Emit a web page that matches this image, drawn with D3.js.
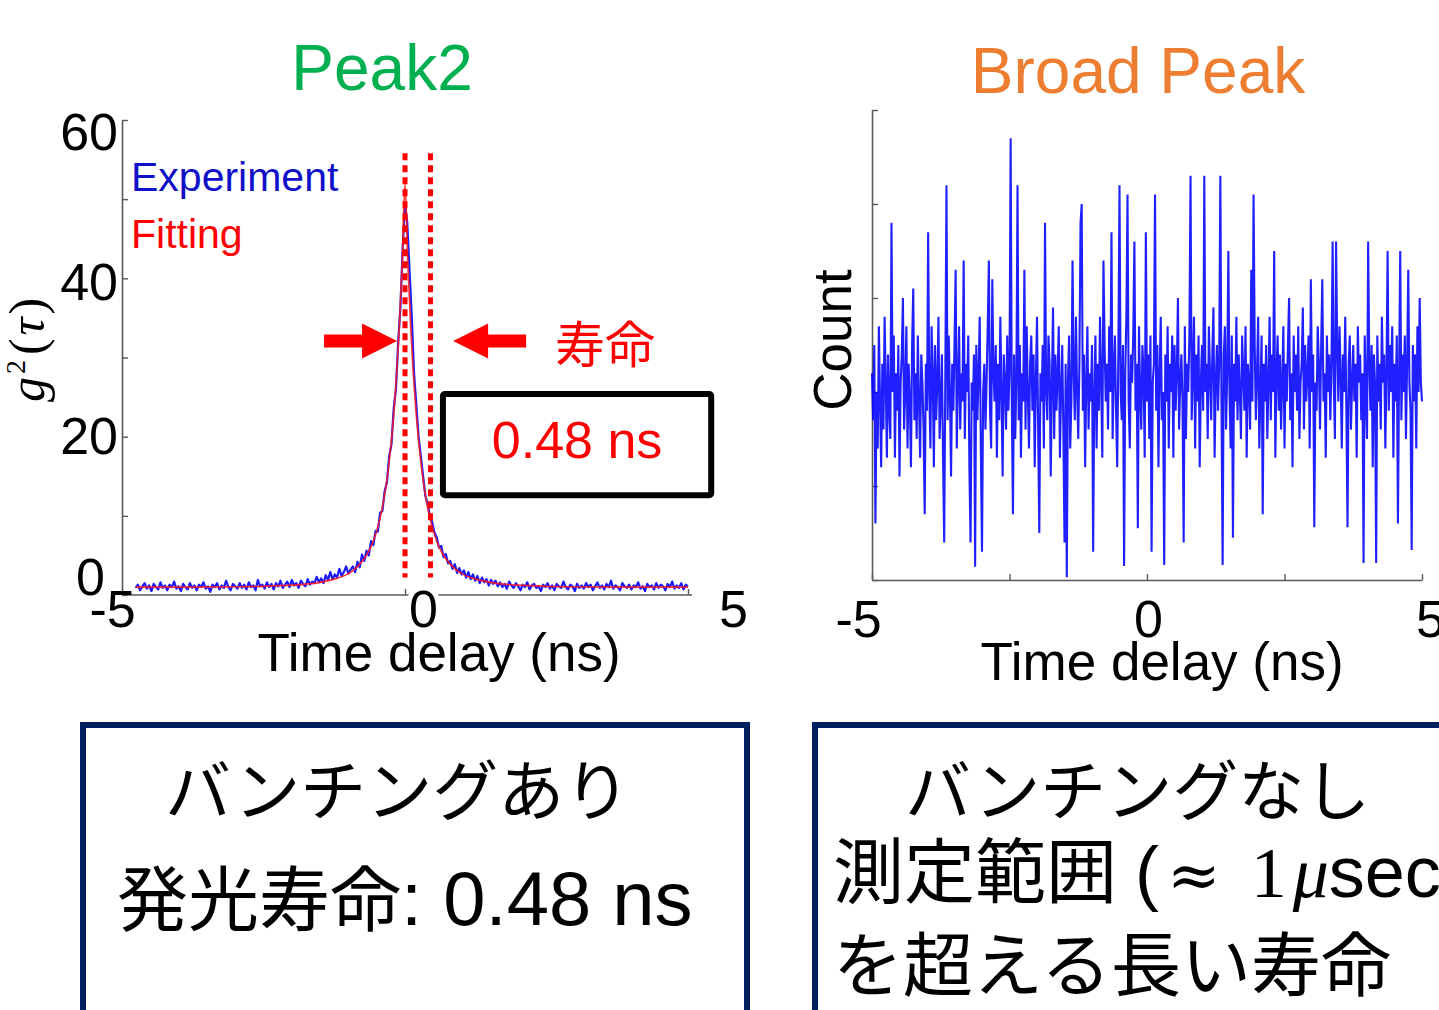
<!DOCTYPE html>
<html><head><meta charset="utf-8">
<script src="https://cdn.jsdelivr.net/npm/d3@7"></script>
<style>
html,body{margin:0;padding:0;background:#fff;overflow:hidden}
svg{display:block}
</style></head><body>
<svg id="c" width="1439" height="1010"></svg>
<script>
// ---------------- data ----------------
const titles = ["Peak2", "Broad Peak"];
const legendLabels = ["Experiment", "Fitting"];
const xAxisTitle = "Time delay (ns)";
const yAxisTitleRight = "Count";

const xTicksLeft = [-5, 0, 5];
const xTickLabelsLeft = {"-5": "-5", "0": "0", "5": "5"};
const yTicksLeft = [0, 10, 20, 30, 40, 50, 60];
const yTickLabelsLeft = {"0": "0", "20": "20", "40": "40", "60": "60"};
const xTicksRight = [-5, -2.5, 0, 2.5, 5];
const xTickLabelsRight = {"-5": "-5", "0": "0", "5": "5"};
const yTicksRight = [0, 10, 20, 30, 40, 50];

// g2(tau) experiment: uniform bins
const expStart = -4.76, expStep = 0.04;
const expValues = [
 0.9,1.3,0.6,1.1,1.5,0.8,1.2,0.5,1.4,1.0,
 0.7,1.6,0.9,1.2,0.6,1.3,1.0,1.7,0.8,1.1,
 0.5,1.4,1.0,0.7,1.5,0.9,1.2,0.6,1.3,1.0,
 1.6,0.8,1.1,0.4,1.3,1.0,1.5,0.7,1.2,0.9,
 1.8,1.0,0.6,1.4,1.1,0.8,1.5,0.9,1.3,0.7,
 1.6,1.0,1.2,0.6,1.9,1.1,
 1.3,0.8,1.6,1.0,1.4,0.7,1.5,1.1,1.8,0.9,
 1.3,1.7,1.0,1.9,1.2,1.5,0.9,1.8,1.4,1.1,
 2.0,1.3,1.7,1.5,2.3,1.6,2.1,1.5,2.5,1.9,
 2.9,2.0,2.6,2.2,3.3,2.4,2.9,3.6,2.7,3.2,
 3.6,2.9,4.2,3.5,5.1,4.3,5.6,5.0,6.8,6.3,
 8.1,8.0,10.4,10.6,13.1,14.2,17.5,19.0,23.5,26.0,
 32.0,36.5,44.0,49.5,47.0,41.0,35.0,28.0,24.0,20.0,
 17.5,15.0,12.5,11.5,10.0,9.2,7.9,7.3,6.0,6.2,
 4.8,5.2,4.0,4.3,3.3,3.9,2.8,3.4,2.6,3.1,
 2.2,2.9,2.0,2.6,1.8,2.4,1.5,2.2,1.6,2.0,
 1.2,1.9,1.4,1.8,1.1,
 1.6,1.0,1.4,0.8,1.7,1.2,0.9,1.5,1.1,0.6,
 1.3,1.0,1.6,0.7,1.2,1.4,0.9,1.1,0.5,1.3,
 1.0,1.5,0.8,1.2,0.6,1.4,1.1,0.9,1.7,1.0,
 0.7,1.3,1.1,0.5,1.4,0.9,1.2,0.8,1.5,1.0,
 1.3,0.6,1.1,1.6,0.9,1.2,0.7,1.4,1.0,1.8,
 0.8,1.2,1.0,0.6,1.5,1.1,0.9,1.3,0.7,1.2,
 1.0,1.6,0.8,1.1,0.5,1.4,1.0,1.2,0.7,1.5,
 0.9,1.3,1.1,0.6,1.4,1.0,1.7,0.8,1.2,0.9,
 1.5,0.7,1.3,1.1
];

const fitTimes = [-4.76,-4,-3,-2.5,-2,-1.75,-1.5,-1.25,-1,-0.9,-0.8,-0.7,-0.6,-0.5,-0.4,-0.3,-0.2,-0.1,-0.05,0,
                  0.05,0.1,0.2,0.3,0.4,0.5,0.6,0.7,0.8,0.9,1,1.25,1.5,1.75,2,2.5,3,4,5];
const fitValues = [1.0,1.0,1.04,1.1,1.24,1.37,1.6,2.0,2.7,3.2,3.9,4.8,6.1,8.1,11.0,15.6,22.7,34.0,41.9,52.0,
                   41.9,34.0,22.7,15.6,11.0,8.1,6.1,4.8,3.9,3.2,2.7,2.0,1.6,1.37,1.24,1.1,1.04,1.0,1.0];

const markerTimes = [0, 0.45];
const markerRange = [2.2, 55.8];
const arrowTips = [{t: -0.14, g: 32.1, dir: 1}, {t: 0.85, g: 32.1, dir: -1}];
const lifetimeWord = {t: 2.65, g: 32.1, text: "寿命"};
const lifetimeBox = {t0: 0.67, t1: 5.41, g0: 12.6, g1: 25.4, text: "0.48 ns"};

// Broad peak counts: uniform bins over -5..5
const broadStart = -5, broadStep = 10 / 480;
const broadValues = [
 22,17,25,6,20,14,27,19,12,23,16,28,21,13,24,18,15,38,20,26,
 13,22,18,25,11,21,24,30,16,20,27,14,23,19,12,25,31,17,22,15,
 26,19,13,24,21,16,7,23,18,37,20,14,27,22,12,25,17,21,28,15,
 19,24,13,4,22,42,17,26,20,11,23,18,25,33,14,21,27,16,22,19,
 34,15,23,20,26,12,4,21,18,24,1.4,25,17,22,28,14,3,20,23,16,
 21,27,34,18,14,32,22,19,25,13,23,17,28,20,11,24,21,16,26,18,
 22,47,19,7,24,15,21,42,17,25,13,22,19,33,16,27,20,14,23,26,
 18,24,12,21,28,16,5,22,19,25,14,38,20,17,26,23,11,21,29,15,
 24,18,22,27,13,20,25,16,4,23,0.3,21,26,14,19,34,22,17,28,20,
 15,23,38,40,18,24,12,21,27,16,22,19,25,3,20,26,14,23,18,28,
 21,13,34,25,19,23,16,27,20,37,15,22,26,18,12,24,42,20,17,25,
 1.5,22,28,41,19,14,24,21,26,36,18,23,5.5,27,20,16,25,22,13,37,
 19,24,15,26,3,21,23,41,18,25,12,22,28,17,20,1.6,24,19,27,14,
 23,20,26,13,25,18,22,30,16,21,24,19,4,27,15,23,20,26,43,17,
 22,28,14,24,19,26,12,21,25,18,43,20,23,15,27,22,17,24,29,13,
 21,25,18,23,43,19,1.6,24,27,16,22,35,20,14,26,4.5,23,19,28,17,
 24,20,15,26,22,18,27,13,23,21,16,33,19,41,25,17,22,28,14,20,
 26,7,23,19,25,15,21,28,17,24,20,35,13,22,26,18,24,16,21,27,
 14,23,19,25,30,17,22,12,26,20,24,18,27,15,21,23,29,16,25,19,
 22,26,14,32,20,24,5.6,21,18,27,23,16,25,32,19,22,13,26,20,24,
 17,23,36,21,15,36,25,19,27,22,14,24,20,28,18,5.6,23,26,16,21,
 25,19,23,13,27,21,24,17,22,1.8,26,20,15,36,23,18,25,12,24,21,
 1.8,26,19,23,16,28,21,24,14,22,35,18,25,20,27,13,23,19,26,6,
 22,35,17,24,20,26,15,23,33,21,18,3.2,25,19,24,14,27,20,30,21,
 19
];

const boxLeftLines = ["バンチングあり", "発光寿命", ": 0.48 ns"];
const boxRightLines = ["バンチングなし", "測定範囲", "を超える長い寿命"];

// ---------------- drawing ----------------
const SANS = "'Liberation Sans', Arial, sans-serif";
const CJK = "'Noto Sans CJK JP', 'Noto Sans CJK SC', sans-serif";
const SERIF = "'Liberation Serif', 'DejaVu Serif', serif";
const axisColor = "#5a5a5a";

const svg = d3.select("#c");
svg.append("rect").attr("width", 1439).attr("height", 1010).attr("fill", "#fff");

const xL = d3.scaleLinear().domain([-5, 5]).range([122, 688]);
const yL = d3.scaleLinear().domain([0, 60]).range([595, 120]);
const xR = d3.scaleLinear().domain([-5, 5]).range([872, 1422]);
const yR = d3.scaleLinear().domain([0, 50]).range([580, 110]);

function styleAxis(g) {
  g.attr("font-family", SANS).attr("font-size", 52);
  g.select(".domain").attr("stroke", axisColor).attr("stroke-width", 1.6);
  g.selectAll(".tick line").attr("stroke", axisColor).attr("stroke-width", 1.4);
  g.selectAll(".tick text").attr("fill", "#000");
}

// Titles
svg.append("text").attr("x", 382).attr("y", 90).attr("text-anchor", "middle")
  .attr("font-family", SANS).attr("font-size", 64).attr("fill", "#00B050").text(titles[0]);
svg.append("text").attr("x", 1138).attr("y", 93).attr("text-anchor", "middle")
  .attr("font-family", SANS).attr("font-size", 64).attr("fill", "#ED7D31").text(titles[1]);

// ---- Left panel ----
const leftNudge = {"60": [0, 13], "40": [0, 5], "20": [0, 0], "0": [-13, -17]};
const gyL = svg.append("g").attr("transform", "translate(122,0)")
  .call(d3.axisLeft(yL).tickValues(yTicksLeft).tickSizeInner(-6).tickSizeOuter(0).tickPadding(4)
    .tickFormat(d => yTickLabelsLeft[String(d)] || ""));
styleAxis(gyL);
gyL.selectAll(".tick text").attr("transform", d => {
  const n = leftNudge[String(d)] || [0, 0];
  return `translate(${n[0]},${n[1]})`;
});

const xNudgeL = {"-5": -10, "0": 18, "5": 45};
const gxL = svg.append("g").attr("transform", "translate(0,595)")
  .call(d3.axisBottom(xL).tickValues(xTicksLeft).tickSizeInner(-6).tickSizeOuter(0).tickPadding(0)
    .tickFormat(d => xTickLabelsLeft[String(d)] || ""));
styleAxis(gxL);
gxL.select(".domain").attr("d", `M${xL(-5)},0H${xL(5) + 4}`);
gxL.selectAll(".tick text").attr("y", 32).attr("dy", 0)
  .attr("transform", d => `translate(${xNudgeL[String(d)] || 0},0)`)
  .attr("stroke", d => d === 0 ? "#fff" : "none").attr("stroke-width", 10)
  .attr("paint-order", "stroke");

// y label g2(tau)
const gl = svg.append("text").attr("transform", "translate(44,350) rotate(-90)")
  .attr("text-anchor", "middle").attr("font-family", SERIF).attr("font-size", 50).attr("fill", "#000");
gl.append("tspan").attr("font-style", "italic").text("g");
gl.append("tspan").attr("font-size", 28).attr("dy", -19).attr("dx", 3).text("2");
gl.append("tspan").attr("dy", 19).attr("dx", 5).text("(");
gl.append("tspan").attr("font-style", "italic").attr("dx", 3).text("τ");
gl.append("tspan").attr("dx", 3).text(")");

svg.append("text").attr("x", 439).attr("y", 671).attr("text-anchor", "middle")
  .attr("font-family", SANS).attr("font-size", 53).attr("fill", "#000").text(xAxisTitle);

// data lines
const expData = expValues.map((v, i) => [expStart + i * expStep, v]);
svg.append("path").datum(expData)
  .attr("d", d3.line().x(d => xL(d[0])).y(d => yL(d[1])))
  .attr("fill", "none").attr("stroke", "#0000ff").attr("stroke-width", 2.2).attr("stroke-opacity", 0.9)
  .attr("stroke-linejoin", "round");
const fitData = fitTimes.map((t, i) => [t, fitValues[i]]);
svg.append("path").datum(fitData)
  .attr("d", d3.line().x(d => xL(d[0])).y(d => yL(d[1])).curve(d3.curveMonotoneX))
  .attr("fill", "none").attr("stroke", "#ff1a1a").attr("stroke-width", 1.7).attr("stroke-opacity", 0.85);

// dotted markers
svg.selectAll(".marker").data(markerTimes).enter().append("line")
  .attr("x1", d => xL(d)).attr("x2", d => xL(d))
  .attr("y1", yL(markerRange[1])).attr("y2", yL(markerRange[0]))
  .attr("stroke", "#ff0000").attr("stroke-width", 5).attr("stroke-dasharray", "7 5");

// arrows
const headLen = 35, headHalf = 17.5, shaftLen = 38, shaftHalf = 6.5;
svg.selectAll(".arrow").data(arrowTips).enter().append("path")
  .attr("d", a => {
    const x = xL(a.t), y = yL(a.g), s = -a.dir;
    return `M${x},${y}L${x + s * headLen},${y - headHalf}L${x + s * headLen},${y - shaftHalf}` +
      `L${x + s * (headLen + shaftLen)},${y - shaftHalf}L${x + s * (headLen + shaftLen)},${y + shaftHalf}` +
      `L${x + s * headLen},${y + shaftHalf}L${x + s * headLen},${y + headHalf}Z`;
  })
  .attr("fill", "#ff0000");

svg.append("text").attr("x", xL(lifetimeWord.t)).attr("y", yL(lifetimeWord.g))
  .attr("dominant-baseline", "central").attr("font-family", CJK).attr("font-size", 50)
  .attr("fill", "#ff0000").text(lifetimeWord.text);

svg.append("rect").attr("x", xL(lifetimeBox.t0)).attr("y", yL(lifetimeBox.g1))
  .attr("width", xL(lifetimeBox.t1) - xL(lifetimeBox.t0)).attr("height", yL(lifetimeBox.g0) - yL(lifetimeBox.g1))
  .attr("fill", "none").attr("stroke", "#000").attr("stroke-width", 6).attr("rx", 2);
svg.append("text").attr("x", (xL(lifetimeBox.t0) + xL(lifetimeBox.t1)) / 2)
  .attr("y", (yL(lifetimeBox.g0) + yL(lifetimeBox.g1)) / 2 + 13)
  .attr("text-anchor", "middle").attr("font-family", SANS).attr("font-size", 52)
  .attr("fill", "#ff0000").text(lifetimeBox.text);

// legend
svg.append("text").attr("x", 131).attr("y", 191).attr("font-family", SANS).attr("font-size", 41)
  .attr("fill", "#1010c8").text(legendLabels[0]);
svg.append("text").attr("x", 131).attr("y", 248).attr("font-family", SANS).attr("font-size", 41)
  .attr("fill", "#ff0000").text(legendLabels[1]);

// ---- Right panel ----
const gyR = svg.append("g").attr("transform", "translate(872,0)")
  .call(d3.axisLeft(yR).tickValues(yTicksRight).tickSizeInner(-6).tickSizeOuter(0).tickFormat(() => ""));
styleAxis(gyR);
const xNudgeR = {"-5": -14, "0": 1, "5": 8};
const gxR = svg.append("g").attr("transform", "translate(0,580)")
  .call(d3.axisBottom(xR).tickValues(xTicksRight).tickSizeInner(-6).tickSizeOuter(0).tickPadding(0)
    .tickFormat(d => xTickLabelsRight[String(d)] || ""));
styleAxis(gxR);
gxR.selectAll(".tick text").attr("y", 57).attr("dy", 0)
  .attr("transform", d => `translate(${xNudgeR[String(d)] || 0},0)`);

svg.append("text").attr("transform", "translate(851,340) rotate(-90)").attr("text-anchor", "middle")
  .attr("font-family", SANS).attr("font-size", 53).attr("fill", "#000").text(yAxisTitleRight);
svg.append("text").attr("x", 1162).attr("y", 680).attr("text-anchor", "middle")
  .attr("font-family", SANS).attr("font-size", 53).attr("fill", "#000").text(xAxisTitle);

const broadData = broadValues.map((v, i) => [broadStart + i * broadStep, v]);
svg.append("path").datum(broadData)
  .attr("d", d3.line().x(d => xR(d[0])).y(d => yR(d[1])))
  .attr("fill", "none").attr("stroke", "#0000ff").attr("stroke-width", 2.1).attr("stroke-opacity", 0.88)
  .attr("stroke-linejoin", "miter");

// ---- Bottom boxes ----
const navy = "#002060";
svg.append("rect").attr("x", 83).attr("y", 725).attr("width", 664).attr("height", 400)
  .attr("fill", "none").attr("stroke", navy).attr("stroke-width", 6);
svg.append("rect").attr("x", 815).attr("y", 725).attr("width", 700).attr("height", 400)
  .attr("fill", "none").attr("stroke", navy).attr("stroke-width", 6);

svg.append("text").attr("x", 165).attr("y", 786).attr("dominant-baseline", "central")
  .attr("font-family", CJK).attr("font-size", 66).attr("fill", "#000").text(boxLeftLines[0]);
const l2 = svg.append("text").attr("x", 117).attr("y", 925).attr("fill", "#000");
l2.append("tspan").attr("font-family", CJK).attr("font-size", 71).text(boxLeftLines[1]);
l2.append("tspan").attr("font-family", SANS).attr("font-size", 76).text(boxLeftLines[2]);

svg.append("text").attr("x", 905).attr("y", 786).attr("dominant-baseline", "central")
  .attr("font-family", CJK).attr("font-size", 66).attr("fill", "#000").text(boxRightLines[0]);
const r2 = svg.append("text").attr("x", 833).attr("y", 897).attr("fill", "#000");
r2.append("tspan").attr("font-family", CJK).attr("font-size", 71).text(boxRightLines[1]);
r2.append("tspan").attr("font-family", SANS).attr("font-size", 72).attr("dx", 18).text("(");
r2.append("tspan").attr("font-family", "'DejaVu Serif', serif").attr("font-size", 64).attr("dx", 8).text("≈");
r2.append("tspan").attr("font-family", SERIF).attr("font-size", 72).attr("dx", 30).text("1");
r2.append("tspan").attr("font-family", SERIF).attr("font-style", "italic").attr("font-size", 72).attr("dx", 6).text("μ");
r2.append("tspan").attr("font-family", SANS).attr("font-size", 72).text("sec)");
svg.append("text").attr("x", 833).attr("y", 960).attr("dominant-baseline", "central")
  .attr("font-family", CJK).attr("font-size", 70).attr("fill", "#000").text(boxRightLines[2]);
</script>
</body></html>
